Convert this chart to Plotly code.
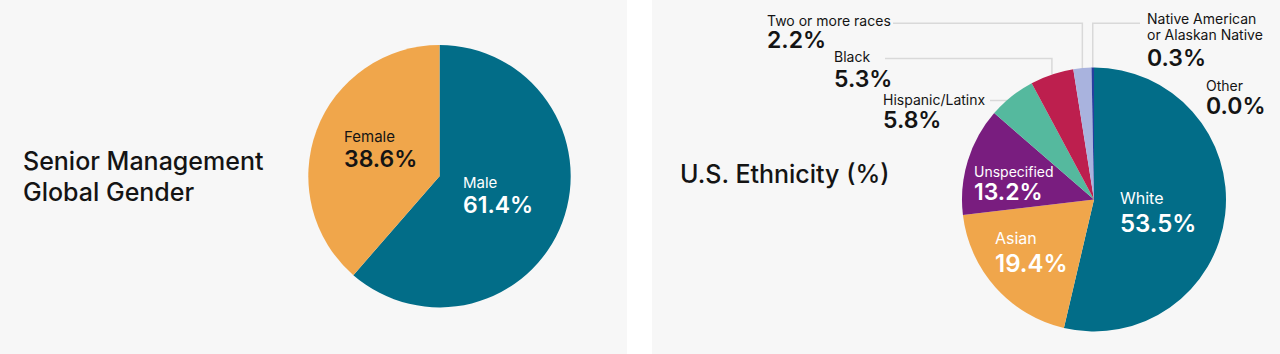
import math
import plotly.graph_objects as go

# ---------------- data ----------------
gender_labels = ["Male", "Female"]
gender_values = [61.4, 38.6]
gender_colors = ["#026d88", "#f0a64b"]

eth_labels = ["White", "Asian", "Unspecified", "Hispanic/Latinx", "Black",
              "Two or more races", "Native American or Alaskan Native", "Other"]
eth_values = [53.5, 19.4, 13.2, 5.8, 5.3, 2.2, 0.3, 0.0]
eth_colors = ["#026d88", "#f0a64b", "#791d7f", "#55b99e", "#bd1f4e",
              "#a9b3de", "#283fa0", "#555555"]

title_left = ["Senior Management", "Global Gender"]
title_right = "U.S. Ethnicity (%)"

# ---------------- layout geometry (pixels) ----------------
W, H = 1280, 354
BG = "#f7f7f7"
TXT = "#141414"
LINE = "#d9d9d9"
FONT = "Inter"
NUM_W = 600

def px(x):
    return x / W

def py(y):
    return 1 - y / H

LEFT_C, LEFT_R = (439.5, 176.2), 131.2
RIGHT_C, RIGHT_R = (1094.0, 199.5), 132.0

def dom(c, r):
    return dict(x=[px(c[0] - r), px(c[0] + r)], y=[py(c[1] + r), py(c[1] - r)])

fig = go.Figure()
fig.add_trace(go.Pie(labels=gender_labels, values=gender_values, sort=False,
                     direction="clockwise", rotation=0, textinfo="none",
                     marker=dict(colors=gender_colors, line=dict(width=0)),
                     domain=dom(LEFT_C, LEFT_R), showlegend=False, hoverinfo="label+value"))
fig.add_trace(go.Pie(labels=eth_labels, values=eth_values, sort=False,
                     direction="clockwise", rotation=0, textinfo="none",
                     marker=dict(colors=eth_colors, line=dict(width=0)),
                     domain=dom(RIGHT_C, RIGHT_R), showlegend=False, hoverinfo="label+value"))

annotations = []

def ann(text, x, y, size, color=TXT, weight=400):
    annotations.append(dict(text=text, x=px(x), y=py(y), xref="paper", yref="paper",
                            xanchor="left", yanchor="middle", align="left", showarrow=False,
                            font=dict(family=FONT, size=size, color=color, weight=weight)))

# titles
ann(title_left[0], 21, 161, 25, weight=500)
ann(title_left[1], 21, 192.5, 25, weight=500)
ann(title_right, 678, 174, 25, weight=500)

def pct(v):
    return f"{v:.1f}%"

def block(lines, value, x, b_first, b_last, color, s1, s2):
    """label lines + value as one text; baselines b_first..b_last in px."""
    if value is None:
        sizes = [s1] * len(lines)
        parts = [f"<span style='font-size:{s1}px'>{t}</span>" for t in lines]
    else:
        sizes = [s1] * len(lines) + [s2]
        parts = [f"<span style='font-size:{s1}px'>{t}</span>" for t in lines]
        parts.append(f"<span style='font-size:{s2}px;font-weight:{NUM_W}'>{pct(value)}</span>")
    n_steps = len(parts) - 1
    if n_steps > 0:
        base = (b_last - b_first) / n_steps / 1.3
    else:
        base = sizes[0]
    yc = (b_first + b_last) / 2 - 0.97 * sizes[0] / 2 + 0.24 * sizes[-1] / 2
    ann("<br>".join(parts), x, yc, base, color)

# label: (x, first baseline, last baseline, color, small size, big size)
gender_pos = {
    "Male": (461, 188, 213, "white", 15, 23),
    "Female": (342, 142, 167, TXT, 15, 23),
}
for lab, val in zip(gender_labels, gender_values):
    x, b1, b2, col, s1, s2 = gender_pos[lab]
    block([lab], val, x, b1, b2, col, s1, s2)

eth_pos = {
    "White": (1118, 204, 232, "white", 16, 24),
    "Asian": (993, 244, 272, "white", 16, 24),
    "Unspecified": (972, 177, 200, "white", 14, 23),
    "Hispanic/Latinx": (881, 105, 128, TXT, 14, 23),
    "Black": (832, 62, 87, TXT, 14, 23),
    "Two or more races": (765, 25.7, 48, TXT, 14, 23),
    "Other": (1204, 91, 114, TXT, 14, 23),
}
for lab, val in zip(eth_labels, eth_values):
    if lab in eth_pos:
        x, b1, b2, col, s1, s2 = eth_pos[lab]
        block([lab], val, x, b1, b2, col, s1, s2)
    else:
        # Native American or Alaskan Native: two label lines, value below
        block(["Native American", "or Alaskan Native"], None, 1145, 24, 40, TXT, 14, 14)
        ann(f"<span style='font-weight:{NUM_W}'>{pct(val)}</span>", 1145,
            66 - 0.97 * 23 / 2 + 0.24 * 23 / 2, 23)

# leader lines: from label to slice mid-angle on rim
total = sum(eth_values)
cum = 0.0
mids = {}
for lab, val in zip(eth_labels, eth_values):
    mid = (cum + val / 2) / total
    cum += val
    ang = 2 * math.pi * mid
    mids[lab] = (RIGHT_C[0] + RIGHT_R * math.sin(ang), RIGHT_C[1] - RIGHT_R * math.cos(ang))

leader = {
    "Two or more races": (893, 23.3),
    "Black": (885, 58.5),
    "Hispanic/Latinx": (990, 100.5),
    "Native American or Alaskan Native": (1140, 23.3),
}
shapes = [
    dict(type="rect", xref="paper", yref="paper", x0=px(627), x1=px(652), y0=0, y1=1,
         fillcolor="white", line=dict(width=0), layer="below"),
]
for lab, (sx, ey) in leader.items():
    ax, ay = mids[lab]
    if lab == "Hispanic/Latinx":
        path = f"M{px(sx)},{py(ey)} L{px(ax)},{py(ey)}"
    else:
        path = f"M{px(sx)},{py(ey)} L{px(ax)},{py(ey)} L{px(ax)},{py(ay)}"
    shapes.append(dict(type="path", path=path, xref="paper", yref="paper",
                       line=dict(color=LINE, width=1.5), layer="below"))

fig.update_layout(width=W, height=H, margin=dict(l=0, r=0, t=0, b=0),
                  paper_bgcolor=BG, plot_bgcolor=BG, showlegend=False,
                  annotations=annotations, shapes=shapes,
                  font=dict(family=FONT, color=TXT))

fig.write_html("out.html", config={"displayModeBar": False})
